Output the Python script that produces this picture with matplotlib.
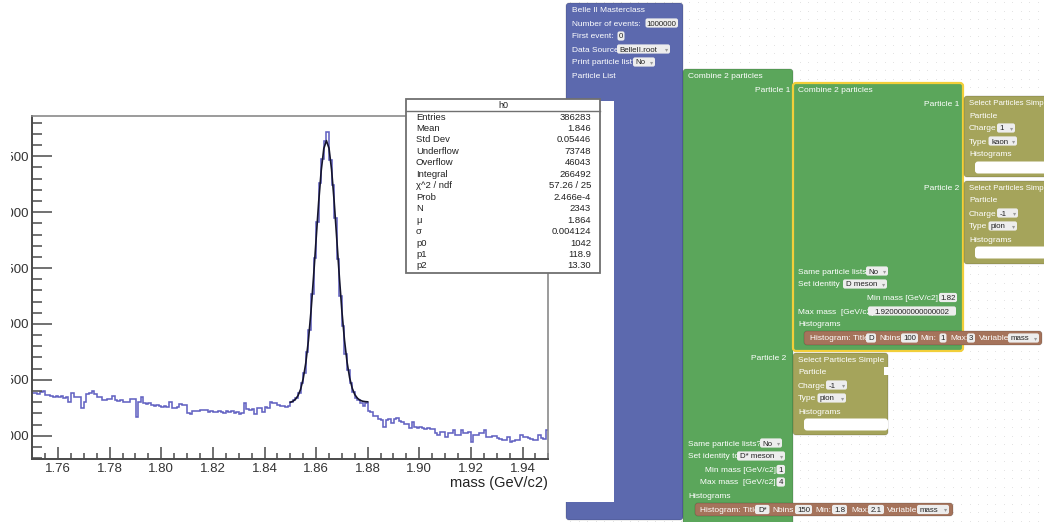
import matplotlib
matplotlib.use("Agg")
import matplotlib.pyplot as plt
from matplotlib.patches import Rectangle, FancyBboxPatch
import numpy as np

plt.rcParams["font.family"] = ["Liberation Sans", "DejaVu Sans"]

# ==========================================
# HISTOGRAM DATA
# ==========================================

mass_lo = 1.75
mass_hi = 1.95
n_bins = 200

counts = [
    1385, 1380, 1372, 1392, 1396, 1362, 1366, 1352, 1348, 1355,
    1345, 1352, 1340, 1348, 1302, 1386, 1350, 1346, 1342, 1250,
    1305, 1372, 1378, 1396, 1370, 1350, 1348, 1322, 1318, 1325,
    1328, 1356, 1316, 1312, 1318, 1302, 1298, 1305, 1332, 1328,
    1170, 1302, 1346, 1292, 1288, 1294, 1272, 1268, 1275, 1262,
    1258, 1262, 1255, 1302, 1250, 1246, 1254, 1282, 1278, 1276,
    1205, 1198, 1222, 1218, 1225, 1232, 1228, 1226, 1212, 1218,
    1215, 1210, 1222, 1214, 1206, 1218, 1212, 1220, 1205, 1210,
    1198, 1202, 1292, 1238, 1234, 1240, 1198, 1248, 1252, 1214,
    1256, 1252, 1305, 1296, 1292, 1276, 1262, 1270, 1258, 1268,
    1300, 1318, 1340, 1378, 1470, 1562, 1752, 1950, 2270, 2590,
    2915, 3262, 3480, 3640, 3720, 3470, 3240, 2950, 2585, 2248,
    1985, 1730, 1590, 1470, 1392, 1335, 1318, 1296, 1262, 1292,
    1222, 1208, 1180, 1172, 1148, 1142, 1082, 1145, 1148, 1112,
    1150, 1155, 1130, 1126, 1104, 1108, 1068, 1120, 1078, 1072,
    1076, 1066, 1062, 1068, 1058, 1060, 1022, 1006, 1036, 1034,
    992, 1026, 1028, 1052, 1006, 1010, 1050, 1020, 1024, 1036,
    948, 1004, 1008, 1020, 1022, 1050, 992, 990, 998, 996,
    978, 974, 962, 964, 990, 948, 950, 962, 966, 1004,
    992, 990, 978, 974, 962, 964, 1004, 978, 974, 1050,
]

# fitted curve
fit_mass = [
    1.850, 1.851, 1.852, 1.853, 1.854, 1.855, 1.856, 1.857, 1.858, 1.859,
    1.860, 1.861, 1.862, 1.863, 1.864, 1.865, 1.866, 1.867, 1.868, 1.869,
    1.870, 1.871, 1.872, 1.873, 1.874, 1.875, 1.876, 1.877, 1.878, 1.879,
    1.880,
]
fit_counts = [
    1299, 1308, 1326, 1359, 1416, 1510, 1650, 1848, 2107, 2418,
    2757, 3092, 3376, 3570, 3640, 3572, 3380, 3097, 2764, 2425,
    2114, 1856, 1658, 1518, 1425, 1368, 1336, 1318, 1309, 1305,
    1303,
]

x_ticks = [1.76, 1.78, 1.80, 1.82, 1.84, 1.86, 1.88, 1.90, 1.92, 1.94]
x_tick_labels = ["1.76", "1.78", "1.80", "1.82", "1.84",
                 "1.86", "1.88", "1.90", "1.92", "1.94"]
y_ticks = [1000, 1500, 2000, 2500, 3000, 3500]

stat_labels = ["Entries", "Mean", "Std Dev", "Underflow", "Overflow",
               "Integral", "χ^2 / ndf", "Prob", "N", "μ", "σ",
               "p0", "p1", "p2"]
stat_values = ["386283", "1.846", "0.05446", "73748", "46043",
               "266492", "57.26 / 25", "2.466e-4", "2343", "1.864",
               "0.004124", "1042", "118.9", "13.30"]

# ==========================================
# FIGURE + PIXEL OVERLAY FOR THE BLOCK EDITOR
# ==========================================

W, H = 1044, 522
fig = plt.figure(figsize=(W / 100, H / 100), dpi=100)

ui = fig.add_axes([0, 0, 1, 1], zorder=0)
ui.set_xlim(0, W)
ui.set_ylim(H, 0)
ui.axis("off")

BLUE = "#5c69ae"
GREEN = "#5ba65b"
OLIVE = "#a5a45b"
BROWN = "#a5735b"
YELLOW = "#f2cf3a"
FS = 6.0
FS_FIELD = 5.7


def block(x0, y0, x1, y1, color, z=2):
    ui.add_patch(FancyBboxPatch(
        (x0, y0), x1 - x0, y1 - y0,
        boxstyle="round,pad=0,rounding_size=3",
        facecolor=color, edgecolor=(0, 0, 0, 0.18),
        linewidth=0.6, zorder=z
    ))


def label(x, y, s, ha="left", size=FS):
    ui.text(x, y, s, fontsize=size, color="white", ha=ha,
            va="center_baseline", zorder=8)


def field(x0, x1, y, s, dropdown=False):
    ui.add_patch(FancyBboxPatch(
        (x0, y - 4.6), x1 - x0, 9.2,
        boxstyle="round,pad=0,rounding_size=2",
        facecolor="#ededed", edgecolor="none", zorder=9
    ))
    if dropdown:
        ui.text(x0 + 2.5, y, s, fontsize=FS_FIELD, color="#222222",
                ha="left", va="center_baseline", zorder=10)
        ui.text(x1 - 2.0, y, "▾", fontsize=4.5, color="#9a9a9a",
                ha="right", va="center_baseline", zorder=10)
    else:
        ui.text((x0 + x1) / 2, y, s, fontsize=FS_FIELD, color="#222222",
                ha="center", va="center_baseline", zorder=10)


# workspace dot grid
gx, gy = np.meshgrid(np.arange(570, W, 8.5), np.arange(2, H, 8.5))
ui.scatter(gx.ravel(), gy.ravel(), s=0.35, c="#dcdcdc",
           linewidths=0, zorder=0)

# ---------- Belle II Masterclass block ----------
block(566, 3, 683, 520, BLUE, z=1)
label(571.5, 10, "Belle II Masterclass")
label(571.5, 23, "Number of events:")
field(645.5, 678, 23, "1000000")
label(571.5, 36, "First event:")
field(617.5, 624.5, 36, "0")
label(571.5, 49, "Data Source")
field(617, 670, 49, "BelleII.root", dropdown=True)
label(571.5, 62, "Print particle list?")
field(633, 655, 62, "No", dropdown=True)
label(571.5, 76, "Particle List")

# ---------- outer Combine 2 particles ----------
block(683, 69, 793, 540, GREEN, z=2)
label(688, 76, "Combine 2 particles")
label(790, 89.5, "Particle 1", ha="right")
label(786, 358, "Particle 2", ha="right")
label(688, 443, "Same particle lists?")
field(760, 782, 443, "No", dropdown=True)
label(688, 456, "Set identity to")
field(737, 785, 456, "D* meson", dropdown=True)
label(705, 469.5, "Min mass [GeV/c2]")
field(776.5, 785, 469.5, "1")
label(700.5, 482, "Max mass  [GeV/c2]")
field(776.5, 785, 482, "4")
label(688, 495, "Histograms")

# ---------- inner Combine 2 particles (selected) ----------
block(793, 83, 963, 351, GREEN, z=3)
ui.add_patch(FancyBboxPatch(
    (793, 83), 170, 268, boxstyle="round,pad=0,rounding_size=3",
    facecolor="none", edgecolor=YELLOW, linewidth=1.6, zorder=4
))
label(798, 89.5, "Combine 2 particles")
label(959, 103, "Particle 1", ha="right")
label(959, 187, "Particle 2", ha="right")
label(798, 271, "Same particle lists")
field(866, 888, 271, "No", dropdown=True)
label(798, 284, "Set identity")
field(843, 887, 284, "D meson", dropdown=True)
label(938, 297.5, "Min mass [GeV/c2]", ha="right")
field(939, 957, 297.5, "1.82")
label(798, 311, "Max mass  [GeV/c2]")
field(868, 956, 311, "1.9200000000000002")
label(798, 323.5, "Histograms")

# ---------- Select Particles Simple blocks ----------
# the two on the right run past the screenshot edge
for (x0, y0, x1, y1, title, charge, ptype) in [
    (964, 96, 1060, 177, "Select Particles Simp", "1", "kaon"),
    (964, 181, 1060, 264, "Select Particles Simp", "-1", "pion"),
    (793, 353, 888, 435, "Select Particles Simple", "-1", "pion"),
]:
    block(x0, y0, x1, y1, OLIVE, z=5)
    tx = x0 + 5
    label(tx, y0 + 6.5, title, size=5.7 if x1 > W else FS)
    label(tx, y0 + 19, "Particle")
    label(tx, y0 + 32, "Charge")
    field(tx + 28, tx + 28 + (18 if charge == "1" else 21), y0 + 32,
          charge, dropdown=True)
    label(tx, y0 + 45, "Type")
    field(tx + 19.5, tx + 48, y0 + 45, ptype, dropdown=True)
    label(tx, y0 + 58, "Histograms")
    ui.add_patch(FancyBboxPatch(
        (tx + 6, y0 + 65.5), x1 - tx - 6, 12,
        boxstyle="round,pad=0,rounding_size=3",
        facecolor="white", edgecolor="none", zorder=6
    ))

# value-input notch on the lower block
ui.add_patch(Rectangle((884, 367), 4.5, 8, facecolor="white",
                       edgecolor="none", zorder=6))

# ---------- Histogram blocks ----------
block(804, 331, 1042, 345, BROWN, z=6)
label(810, 338, "Histogram: Title")
field(866, 876, 338, "D")
label(879, 338, "Nbins")
field(901, 918, 338, "100")
label(920.5, 338, "Min:")
field(939.5, 946.5, 338, "1")
label(950, 338, "Max:")
field(967, 975, 338, "3")
label(979, 338, "Variable")
field(1008, 1039, 338, "mass", dropdown=True)

block(695, 503, 953, 516, BROWN, z=6)
label(700, 509.5, "Histogram: Title")
field(755, 769.5, 509.5, "D*")
label(772, 509.5, "Nbins")
field(795, 812, 509.5, "150")
label(815, 509.5, "Min:")
field(832, 847, 509.5, "1.8")
label(851, 509.5, "Max:")
field(868, 884, 509.5, "2.1")
label(887, 509.5, "Variable")
field(917, 949, 509.5, "mass", dropdown=True)

# ---------- ROOT canvas window ----------
ui.add_patch(Rectangle((0, 101), 614, 400.7, facecolor="white",
                       edgecolor="none", zorder=20))

# ==========================================
# ROOT HISTOGRAM
# ==========================================

fl, fr, ft, fb = 32.3, 548.3, 115.7, 459.3
ax = fig.add_axes([fl / W, 1 - fb / H, (fr - fl) / W, (fb - ft) / H],
                  zorder=2)

edges = np.linspace(mass_lo, mass_hi, n_bins + 1)
ax.stairs(counts, edges, baseline=None, color="#6363c2", linewidth=1.15)
ax.plot(fit_mass, fit_counts, color="#15152e", linewidth=1.2)

ax.set_xlim(mass_lo, mass_hi)
ax.set_ylim(789, 3863)

ax.set_xticks(x_ticks)
ax.set_xticklabels(x_tick_labels)
ax.set_xticks(np.arange(1.755, 1.950, 0.005), minor=True)
ax.set_yticks(y_ticks)
ax.set_yticks(np.arange(800, 3900, 100), minor=True)

ax.tick_params(axis="both", which="both", direction="in",
               color="#4a4a4a", width=1.1, labelcolor="#333333")
ax.tick_params(axis="x", which="major", length=8.4, pad=3, labelsize=9.5)
ax.tick_params(axis="x", which="minor", length=4.2)
ax.tick_params(axis="y", which="major", length=14.4, pad=2.2,
               labelsize=9.5)
ax.tick_params(axis="y", which="minor", length=7.2)

for side in ["left", "bottom"]:
    ax.spines[side].set_color("#4a4a4a")
    ax.spines[side].set_linewidth(1.4)
for side in ["top", "right"]:
    ax.spines[side].set_color("#8a8a8a")
    ax.spines[side].set_linewidth(1.2)

# ==========================================
# STATS BOX + AXIS TITLE
# ==========================================

top = fig.add_axes([0, 0, 1, 1], zorder=5)
top.patch.set_alpha(0)
top.set_xlim(0, W)
top.set_ylim(H, 0)
top.axis("off")

# canvas edge hides the first digit of the y labels
top.add_patch(Rectangle((0, 101), 11, 400, facecolor="white",
                        edgecolor="none"))

top.add_patch(Rectangle((406, 99), 194, 174, facecolor="white",
                        edgecolor="#707070", linewidth=1.3))
top.plot([406, 600], [111, 111], color="#707070", linewidth=1.0)
top.text(503, 105, "h0", fontsize=6.5, color="#222222",
         ha="center", va="center")

for i, (name, value) in enumerate(zip(stat_labels, stat_values)):
    y = 117 + i * 11.46
    top.text(416, y, name, fontsize=6.8, color="#222222",
             ha="left", va="center")
    top.text(591, y, value, fontsize=6.8, color="#222222",
             ha="right", va="center")

top.text(fr, 483.5, "mass (GeV/c2)", fontsize=10.5, color="#222222",
         ha="right", va="center")

fig.savefig("out.png", dpi=100)
